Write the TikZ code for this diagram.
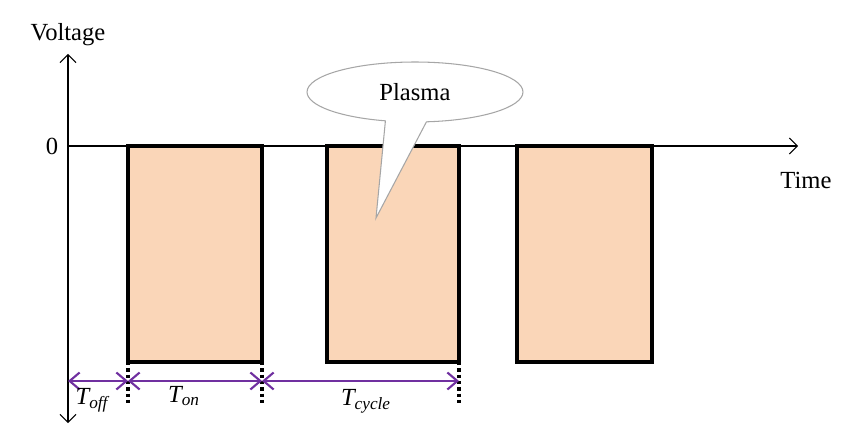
\documentclass[tikz,border=0pt]{standalone}
\usepackage{fontspec}
\setmainfont{Liberation Serif}
\usetikzlibrary{positioning, arrows.meta, shapes.callouts}
\definecolor{pulsefill}{RGB}{250,214,184}
\definecolor{spanpurple}{RGB}{112,48,160}

\begin{document}
\begin{tikzpicture}[x=0.02cm, y=-0.02cm, font=\fontsize{14}{16}\selectfont,
  axisline/.style={line width=0.6pt, {Straight Barb[length=1.6mm,width=3.2mm]}-{Straight Barb[length=1.6mm,width=3.2mm]}},
  pulse/.style={draw, line width=2pt, fill=pulsefill, anchor=north west,
                minimum height=4.32cm, inner sep=0pt, outer sep=0pt},
  marker/.style={line width=2pt, dash pattern=on 2pt off 1.6pt},
  span/.style={spanpurple, line width=1.2pt,
               {Straight Barb[length=2mm,width=3.4mm]}-{Straight Barb[length=2mm,width=3.4mm]}},
  bubble/.style={ellipse callout, draw=gray!70, fill=white, line width=0.6pt,
                 minimum width=4.32cm, minimum height=1.2cm, callout pointer arc=22}]
  \useasboundingbox (0,0) rectangle (854,425);
  % axes
  \coordinate (o) at (68,146);
  \coordinate (vtop) at (68,54);
  \coordinate (vbot) at (68,423);
  \coordinate (tend) at (798,146);
  \draw[axisline] (vbot) -- (vtop);
  \draw[axisline, -{Straight Barb[length=1.6mm,width=3.2mm]}] (o) -- (tend);
  \node[above=1pt of vtop] (vlab) {Voltage};
  \node[left=2pt of o] (zero) {0};
  \node (tlab) at (806,180) {Time};
  % pulses
  \foreach \n/\x/\w in {1/128/134, 2/327/132, 3/517/135}{
    \node[pulse, minimum width=\w*0.02cm] (p\n) at (\x,146) {};
  }
  % timing marks
  \coordinate (s0) at (68,381);
  \foreach \c/\p/\a in {s1/p1/south west, s2/p1/south east, s3/p2/south east}{
    \coordinate (\c) at (\p.\a |- s0);
    \draw[marker] (\p.\a) -- ([yshift=-0.86cm]\p.\a);
  }
  \draw[span] (s0) -- (s1);
  \draw[span] (s1) -- (s2);
  \draw[span] (s2) -- (s3);
  \node (toff) at (92,400) {\textit{T\textsubscript{off}}};
  \node (ton) at (184,396) {\textit{T\textsubscript{on}}};
  \node (tcyc) at (366,401) {\textit{T\textsubscript{cycle}}};
  % callout
  \node[bubble, callout absolute pointer={(376,218)}] (plasma) at (415,92) {Plasma};
\end{tikzpicture}
\end{document}
